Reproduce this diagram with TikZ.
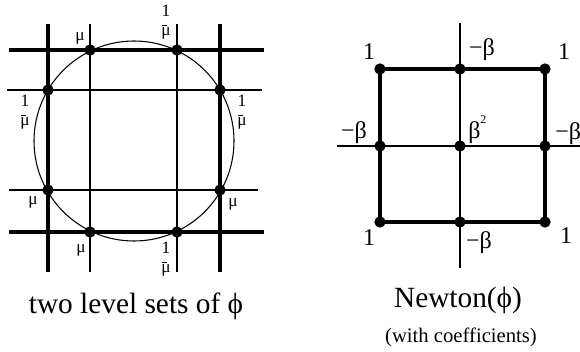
\documentclass[tikz,border=0pt]{standalone}
\usepackage{fontspec}
\setmainfont{Liberation Serif}
\begin{document}
\begin{tikzpicture}[x=0.75pt,y=-0.75pt,
  thickline/.style={line width=2.3pt},
  thinline/.style={line width=0.9pt},
  ringline/.style={line width=0.8pt},
  dot/.style={circle,fill=black,inner sep=0pt,minimum size=8.5pt},
  smalllab/.style={inner sep=0pt,font=\fontsize{13}{13}\selectfont},
  biglab/.style={inner sep=0pt,font=\fontsize{18}{18}\selectfont},
  caption/.style={inner sep=0pt,anchor=base,font=\fontsize{22}{22}\selectfont},
  subcaption/.style={inner sep=0pt,anchor=base,font=\fontsize{15.5}{15.5}\selectfont}]
\useasboundingbox (0,0) rectangle (580,352);
\newcommand{\invmu}{\ensuremath{\vcenter{\offinterlineskip
  \hbox to 7.5pt{\hss 1\hss}\kern6.5pt
  \hbox to 7.5pt{\hskip0.6pt\vrule width 3.6pt height 0.6pt\hss}\kern1.6pt
  \hbox to 7.5pt{\hss μ\hss}}}}

% ---------- left: two level sets ----------
\coordinate (v1t) at (48,24);  \coordinate (v1b) at (48,272);
\coordinate (v2t) at (90,24);  \coordinate (v2b) at (90,272);
\coordinate (v3t) at (177,24); \coordinate (v3b) at (177,272);
\coordinate (v4t) at (220,24); \coordinate (v4b) at (220,272);
\coordinate (h1l) at (9,50);   \coordinate (h1r) at (264,50);
\coordinate (h2l) at (7,90);   \coordinate (h2r) at (262,90);
\coordinate (h3l) at (9,190);  \coordinate (h3r) at (258,190);
\coordinate (h4l) at (9,232);  \coordinate (h4r) at (264,232);
\coordinate (cc) at (134,141);

\draw[thickline] (v1t) -- (v1b);
\draw[thickline] (v4t) -- (v4b);
\draw[thickline] (h1l) -- (h1r);
\draw[thickline] (h4l) -- (h4r);
\draw[thinline] (v2t) -- (v2b);
\draw[thinline] (v3t) -- (v3b);
\draw[thinline] (h2l) -- (h2r);
\draw[thinline] (h3l) -- (h3r);
\draw[ringline] (cc) circle[radius=75pt];

\node[dot] (a1) at (90,50) {};
\node[dot] (a2) at (177,50) {};
\node[dot] (a3) at (48,90) {};
\node[dot] (a4) at (220,90) {};
\node[dot] (a5) at (48,190) {};
\node[dot] (a6) at (220,190) {};
\node[dot] (a7) at (90,232) {};
\node[dot] (a8) at (177,232) {};

\node[smalllab] (m1) at (80,38) {μ};
\node[smalllab] (m2) at (33,202) {μ};
\node[smalllab] (m3) at (233,204) {μ};
\node[smalllab] (m4) at (81,250) {μ};
\node[smalllab] (f1) at (166,22) {\invmu};
\node[smalllab] (f2) at (25,112) {\invmu};
\node[smalllab] (f3) at (242,112) {\invmu};
\node[smalllab] (f4) at (166,259) {\invmu};

\node[caption] (cap1) at (136,313) {two level sets of ϕ};

% ---------- right: Newton polygon ----------
\coordinate (vt) at (460,23);  \coordinate (vb) at (460,268);
\coordinate (hl) at (337,146); \coordinate (hr) at (580,146);
\draw[thinline] (vt) -- (vb);
\draw[thinline] (hl) -- (hr);

\node[dot] (b11) at (380,69) {};
\node[dot] (b12) at (460,69) {};
\node[dot] (b13) at (545,69) {};
\node[dot] (b21) at (380,146) {};
\node[dot] (b22) at (460,146) {};
\node[dot] (b23) at (545,146) {};
\node[dot] (b31) at (380,222) {};
\node[dot] (b32) at (460,222) {};
\node[dot] (b33) at (545,222) {};

\draw[thickline] (b11.center) -- (b13.center) -- (b33.center) -- (b31.center) -- cycle;

\node[biglab] (c11) at (369,52) {1};
\node[biglab] (c12) at (482,50) {−β};
\node[biglab] (c13) at (564,52) {1};
\node[biglab] (c21) at (354,133) {−β};
\node[biglab,anchor=west] (c22) at (468,130) {β\raisebox{0.62em}{\fontsize{9}{9}\selectfont 2}};
\node[biglab,anchor=west] (c23) at (555,134) {−β};
\node[biglab] (c31) at (369,238) {1};
\node[biglab] (c32) at (479,243) {−β};
\node[biglab] (c33) at (566,236) {1};

\node[caption] (cap2) at (458,307) {Newton(ϕ)};
\node[subcaption] (cap3) at (461,342) {(with coefficients)};
\end{tikzpicture}
\end{document}
